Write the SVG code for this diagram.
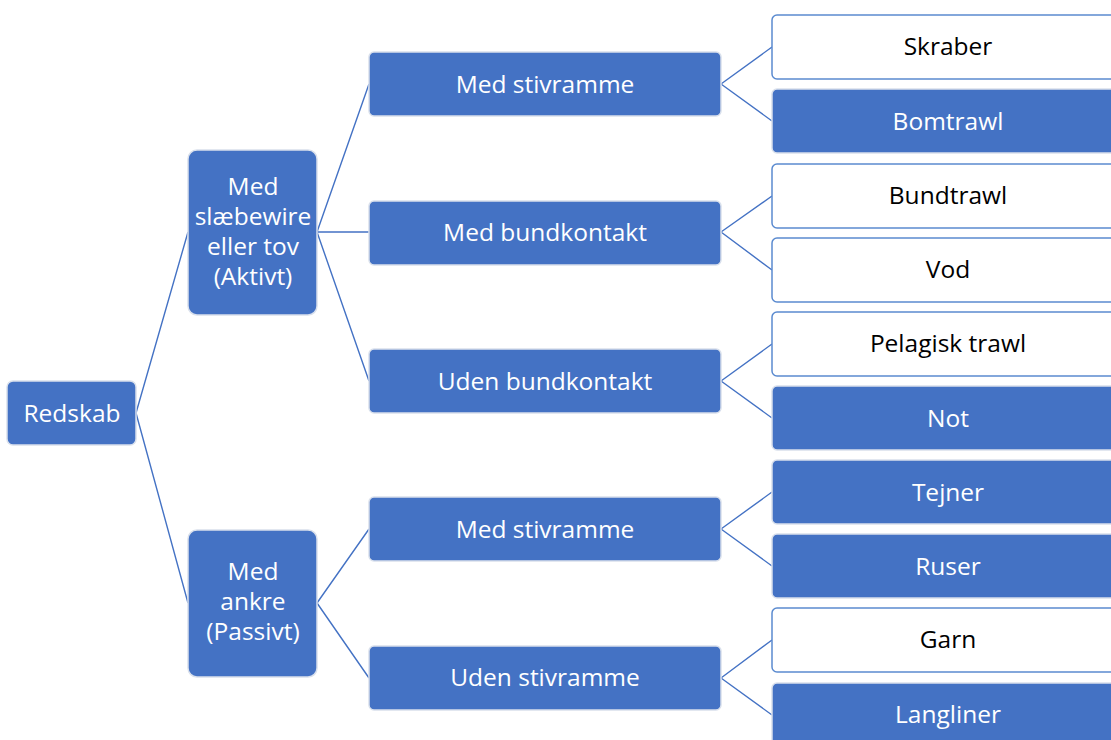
<svg xmlns="http://www.w3.org/2000/svg" width="1111" height="740" viewBox="0 0 1111 740">
<style>
.b{fill:#4472C4;stroke:#d9e0ec;stroke-width:1.5}
.w{fill:#ffffff;stroke:#5b8bd0;stroke-width:1.5}
.tw{fill:#ffffff;font-family:"Open Sans","Noto Sans",sans-serif;font-size:24.5px;text-anchor:middle}
.tk{fill:#000000;font-family:"Open Sans","Noto Sans",sans-serif;font-size:24.5px;text-anchor:middle}
.c{fill:none;stroke:#4472C4;stroke-width:1.4}
</style>
<rect width="1111" height="740" fill="#ffffff"/>
<g id="connectors">
<path class="c" d="M136,413 L188,232 M136,413 L188,603"/>
<path class="c" d="M317,232 L369,84 M317,232 L369,232 M317,232 L369,381"/>
<path class="c" d="M317,603 L369,529 M317,603 L369,678"/>
<path class="c" d="M721,84 L772,47 M721,84 L772,121"/>
<path class="c" d="M721,232 L772,196 M721,232 L772,270"/>
<path class="c" d="M721,381 L772,344 M721,381 L772,418"/>
<path class="c" d="M721,529 L772,492 M721,529 L772,566"/>
<path class="c" d="M721,678 L772,640 M721,678 L772,715"/>
</g>
<g id="redskab"><rect class="b" x="7" y="381" width="129" height="64" rx="6"/><text class="tw" x="72" y="422">Redskab</text></g>
<g id="aktivt"><rect class="b" x="188" y="150" width="129" height="165" rx="9"/>
<text class="tw" x="253" y="195">Med</text><text class="tw" x="253" y="225">slæbewire</text><text class="tw" x="253" y="255">eller tov</text><text class="tw" x="253" y="285">(Aktivt)</text></g>
<g id="passivt"><rect class="b" x="188" y="530" width="129" height="147" rx="9"/>
<text class="tw" x="253" y="580">Med</text><text class="tw" x="253" y="610">ankre</text><text class="tw" x="253" y="640">(Passivt)</text></g>
<g id="a-stivramme"><rect class="b" x="369" y="52" width="352" height="64" rx="5"/><text class="tw" x="545" y="93">Med stivramme</text></g>
<g id="a-bundkontakt"><rect class="b" x="369" y="201" width="352" height="64" rx="5"/><text class="tw" x="545" y="241">Med bundkontakt</text></g>
<g id="a-udenbund"><rect class="b" x="369" y="349" width="352" height="64" rx="5"/><text class="tw" x="545" y="390">Uden bundkontakt</text></g>
<g id="p-stivramme"><rect class="b" x="369" y="497" width="352" height="64" rx="5"/><text class="tw" x="545" y="538">Med stivramme</text></g>
<g id="p-udenstiv"><rect class="b" x="369" y="646" width="352" height="64" rx="5"/><text class="tw" x="545" y="686">Uden stivramme</text></g>
<g id="skraber"><rect class="w" x="772" y="15" width="352" height="64" rx="5"/><text class="tk" x="948" y="55">Skraber</text></g>
<g id="bomtrawl"><rect class="b" x="772" y="89" width="352" height="64" rx="5"/><text class="tw" x="948" y="130">Bomtrawl</text></g>
<g id="bundtrawl"><rect class="w" x="772" y="164" width="352" height="64" rx="5"/><text class="tk" x="948" y="204">Bundtrawl</text></g>
<g id="vod"><rect class="w" x="772" y="238" width="352" height="64" rx="5"/><text class="tk" x="948" y="278">Vod</text></g>
<g id="pelagisk"><rect class="w" x="772" y="312" width="352" height="64" rx="5"/><text class="tk" x="948" y="352">Pelagisk trawl</text></g>
<g id="not"><rect class="b" x="772" y="386" width="352" height="64" rx="5"/><text class="tw" x="948" y="427">Not</text></g>
<g id="tejner"><rect class="b" x="772" y="460" width="352" height="64" rx="5"/><text class="tw" x="948" y="501">Tejner</text></g>
<g id="ruser"><rect class="b" x="772" y="534" width="352" height="64" rx="5"/><text class="tw" x="948" y="575">Ruser</text></g>
<g id="garn"><rect class="w" x="772" y="608" width="352" height="64" rx="5"/><text class="tk" x="948" y="648">Garn</text></g>
<g id="langliner"><rect class="b" x="772" y="683" width="352" height="64" rx="5"/><text class="tw" x="948" y="723">Langliner</text></g>
</svg>
